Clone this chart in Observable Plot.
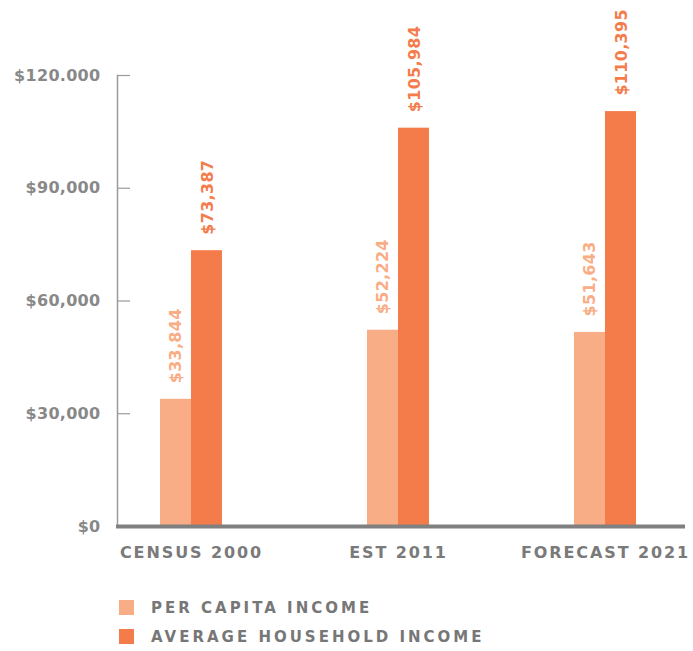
<!DOCTYPE html>
<html>
<head>
<meta charset="utf-8">
<script src="https://cdn.jsdelivr.net/npm/d3@7"></script>
<script src="https://cdn.jsdelivr.net/npm/@observablehq/plot@0.6"></script>
<style>
  body { margin: 0; background: #fff; font-family: "DejaVu Sans", sans-serif; }
  #chart svg text { letter-spacing: 0.3px; font-weight: bold; }
  #chart svg g[aria-label="x-axis tick label"] text { letter-spacing: 1.9px; }
  #legend { margin-top: 25px; margin-left: 119px; }
  .row { display: flex; align-items: center; height: 29px; }
  .sw { width: 15px; height: 15px; margin-right: 17px; margin-top: -14px; }
  .lab { font-size: 15px; letter-spacing: 3px; color: #777; font-weight: bold; margin-top: -14px; }
</style>
</head>
<body>
<div id="chart"></div>
<div id="legend"></div>
<script>
const categories = ["CENSUS 2000", "EST 2011", "FORECAST 2021"];
const seriesNames = ["PER CAPITA INCOME", "AVERAGE HOUSEHOLD INCOME"];
const perCapita = [33844, 52224, 51643];
const avgHousehold = [73387, 105984, 110395];
const yTicks = [0, 30000, 60000, 90000, 120000];
const yTickLabels = ["$0", "$30,000", "$60,000", "$90,000", "$120.000"];
const colors = ["#f9ad86", "#f47c4b"];

const fmt = d3.format("$,");
const perData = categories.map((c, i) => ({cat: c, value: perCapita[i]}));
const avgData = categories.map((c, i) => ({cat: c, value: avgHousehold[i]}));

const chart = Plot.plot({
  width: 693,
  height: 575,
  marginTop: 75,
  marginBottom: 49,
  marginLeft: 117,
  marginRight: 14,
  style: {fontFamily: "DejaVu Sans, sans-serif", fontWeight: "bold", background: "#fff"},
  x: {domain: categories, paddingInner: 0.5, paddingOuter: 0.101, label: null},
  y: {domain: [0, 120000], label: null},
  marks: [
    Plot.barY(perData, {x: "cat", y: "value", fill: colors[0], insetLeft: 21, insetRight: 52}),
    Plot.barY(avgData, {x: "cat", y: "value", fill: colors[1], insetLeft: 52, insetRight: 21}),
    Plot.text(perData, {x: "cat", y: "value", text: d => fmt(d.value), rotate: -90, textAnchor: "start", dx: -16, dy: -16, fill: colors[0], fontSize: 16, fontWeight: "bold"}),
    Plot.text(avgData, {x: "cat", y: "value", text: d => fmt(d.value), rotate: -90, textAnchor: "start", dx: 16, dy: -16, fill: colors[1], fontSize: 16, fontWeight: "bold"}),
    Plot.ruleY(yTicks.slice(1), {stroke: "#9a9a9a", strokeWidth: 1.2, insetRight: 549}),
    Plot.frame({anchor: "left", stroke: "#9a9a9a", strokeWidth: 1.5}),
    Plot.ruleY([0], {stroke: "#808080", strokeWidth: 4, insetLeft: -1, insetRight: -6}),
    Plot.axisY({ticks: yTicks, tickFormat: d => yTickLabels[yTicks.indexOf(d)], tickSize: 0, tickPadding: 17, fill: "#888", fontSize: 16, fontWeight: "bold", label: null}),
    Plot.axisX({tickSize: 0, tickPadding: 20, fill: "#7a7a7a", fontSize: 16, fontWeight: "bold", label: null})
  ]
});
document.getElementById("chart").appendChild(chart);

const legend = document.getElementById("legend");
seriesNames.forEach((name, i) => {
  const row = document.createElement("div");
  row.className = "row";
  row.innerHTML = `<div class="sw" style="background:${colors[i]}"></div><div class="lab">${name}</div>`;
  legend.appendChild(row);
});
</script>
</body>
</html>
